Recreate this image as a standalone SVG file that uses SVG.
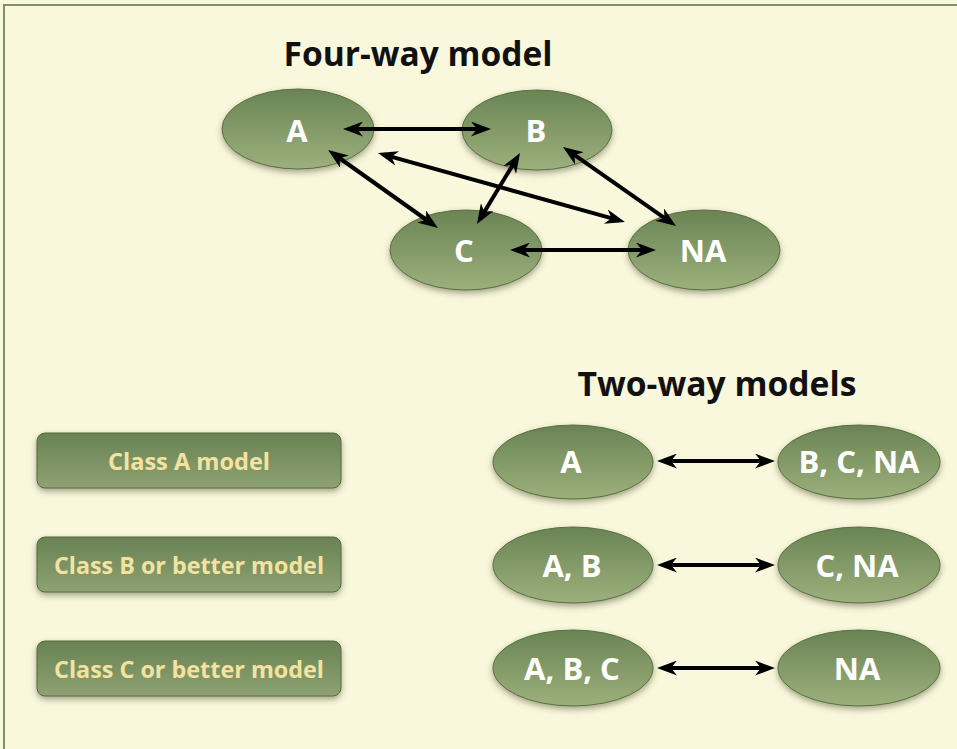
<svg xmlns="http://www.w3.org/2000/svg" width="957" height="749" viewBox="0 0 957 749">
<defs>
<linearGradient id="eg" x1="0" y1="0" x2="0" y2="1">
<stop offset="0" stop-color="#6a8454"/>
<stop offset="1" stop-color="#9cb07c"/>
</linearGradient>
<linearGradient id="bg" x1="0" y1="0" x2="0" y2="1">
<stop offset="0" stop-color="#688253"/>
<stop offset="1" stop-color="#8ea272"/>
</linearGradient>
<filter id="sh" x="-20%" y="-20%" width="140%" height="150%">
<feDropShadow dx="0" dy="3" stdDeviation="3" flood-color="#3a3a20" flood-opacity="0.45"/>
</filter>
<marker id="ah" viewBox="0 -7.5 20 15" refX="14" refY="0" markerWidth="20" markerHeight="15" markerUnits="userSpaceOnUse" orient="auto-start-reverse">
<path d="M0,-7.5 L20,0 L0,7.5 L6,0 Z" fill="#000"/>
</marker>
</defs>
<style>
.ell{fill:url(#eg);stroke:#56703f;stroke-width:1;filter:url(#sh)}
.box{fill:url(#bg);stroke:#56683f;stroke-width:1;filter:url(#sh)}
.lbl{font-family:"Open Sans","Liberation Sans",sans-serif;font-weight:700;fill:#ffffff;font-size:31px;text-anchor:middle}
.btx{font-family:"Open Sans","Liberation Sans",sans-serif;font-weight:700;fill:#f4e3a0;font-size:24px;text-anchor:middle}
.ttl{font-family:"Open Sans","Liberation Sans",sans-serif;font-weight:700;fill:#111;font-size:34px;text-anchor:middle}
.con{stroke:#000;stroke-width:4;fill:none;marker-start:url(#ah);marker-end:url(#ah)}
</style>
<rect x="0" y="0" width="957" height="749" fill="#faf8dc"/>
<path d="M4,749 L4,5 L957,5" fill="none" stroke="#7f8f6f" stroke-width="2"/>

<text class="ttl" x="418" y="66" textLength="269" lengthAdjust="spacingAndGlyphs">Four-way model</text>
<text class="ttl" x="717" y="396" textLength="279" lengthAdjust="spacingAndGlyphs">Two-way models</text>

<g id="nA"><ellipse class="ell" cx="298" cy="129" rx="76" ry="40"/><text class="lbl" x="297" y="142">A</text></g>
<g id="nB"><ellipse class="ell" cx="537" cy="130" rx="75" ry="40"/><text class="lbl" x="536" y="142">B</text></g>
<g id="nC"><ellipse class="ell" cx="466" cy="250" rx="76" ry="40"/><text class="lbl" x="464" y="262">C</text></g>
<g id="nNA"><ellipse class="ell" cx="704" cy="250" rx="76" ry="40"/><text class="lbl" x="703" y="262">NA</text></g>

<g id="boxA"><rect class="box" x="37" y="433" width="304" height="55" rx="8"/><text class="btx" x="189" y="470" textLength="162" lengthAdjust="spacingAndGlyphs">Class A model</text></g>
<g id="boxB"><rect class="box" x="37" y="537" width="304" height="55" rx="8"/><text class="btx" x="189" y="574" textLength="270" lengthAdjust="spacingAndGlyphs">Class B or better model</text></g>
<g id="boxC"><rect class="box" x="37" y="641" width="304" height="55" rx="8"/><text class="btx" x="189" y="678" textLength="270" lengthAdjust="spacingAndGlyphs">Class C or better model</text></g>

<g id="t1L"><ellipse class="ell" cx="573" cy="462" rx="80" ry="37"/><text class="lbl" x="571" y="473">A</text></g>
<g id="t1R"><ellipse class="ell" cx="859" cy="462" rx="81" ry="37"/><text class="lbl" x="859" y="473" textLength="121" lengthAdjust="spacingAndGlyphs">B, C, NA</text></g>
<g id="t2L"><ellipse class="ell" cx="573" cy="565" rx="80" ry="38"/><text class="lbl" x="572" y="577">A, B</text></g>
<g id="t2R"><ellipse class="ell" cx="859" cy="565" rx="81" ry="38"/><text class="lbl" x="857" y="577">C, NA</text></g>
<g id="t3L"><ellipse class="ell" cx="573" cy="668" rx="80" ry="38"/><text class="lbl" x="572" y="680">A, B, C</text></g>
<g id="t3R"><ellipse class="ell" cx="859" cy="668" rx="81" ry="38"/><text class="lbl" x="857" y="680">NA</text></g>

<g id="connectors">
<line class="con" x1="349" y1="129" x2="485" y2="129"/>
<line class="con" x1="333" y1="153.5" x2="433" y2="224.5"/>
<line class="con" x1="383.8" y1="154.6" x2="619.2" y2="220.4"/>
<line class="con" x1="516.9" y1="158.1" x2="480.1" y2="218.9"/>
<line class="con" x1="567.9" y1="150.4" x2="671.1" y2="222.6"/>
<line class="con" x1="516" y1="250" x2="650" y2="250"/>
<line class="con" x1="663" y1="461" x2="769" y2="461"/>
<line class="con" x1="663" y1="565" x2="769" y2="565"/>
<line class="con" x1="663" y1="668" x2="769" y2="668"/>
</g>
</svg>
